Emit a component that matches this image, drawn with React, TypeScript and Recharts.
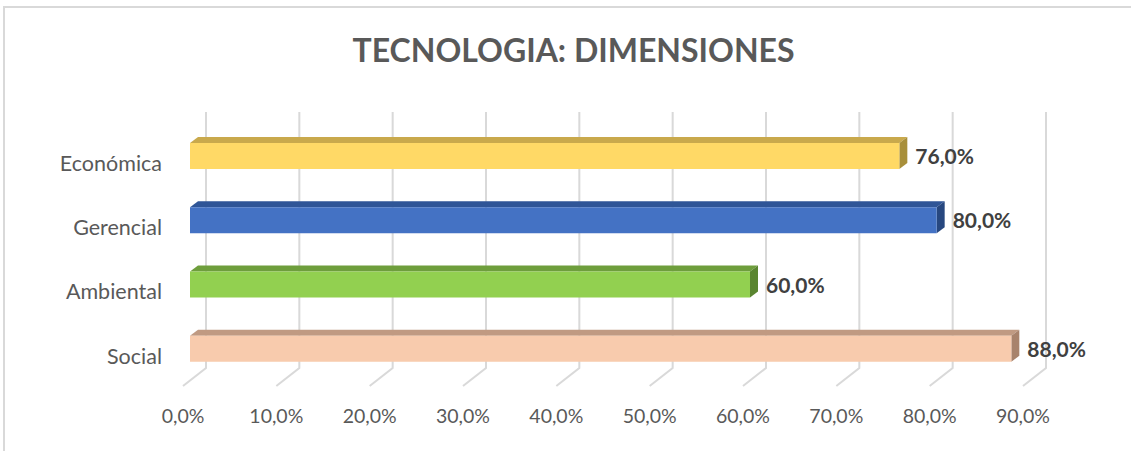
import React from 'react';
import { BarChart, Bar, XAxis, YAxis, CartesianGrid, LabelList } from 'recharts';

const categories = ['Económica', 'Gerencial', 'Ambiental', 'Social'];
const values = [0.76, 0.8, 0.6, 0.88];
const xTicks = [0, 0.1, 0.2, 0.3, 0.4, 0.5, 0.6, 0.7, 0.8, 0.9];

// front / top / side colours per bar
const palette = [
  { front: '#ffd966', top: '#c9a94c', side: '#a88f3a' },
  { front: '#4472c4', top: '#2f5597', side: '#27477f' },
  { front: '#92d050', top: '#6e9e3c', side: '#5a8530' },
  { front: '#f8cbad', top: '#c09a82', side: '#a8836c' },
];

const data = categories.map((name, i) => ({ name, value: values[i], idx: i }));

const FONT = 'Lato, "Open Sans", sans-serif';
const DEPTH_X = 8;
const DEPTH_Y = 6;

const fmt = (v: number) => (v * 100).toFixed(1).replace('.', ',') + '%';

function Bar3D(props: any) {
  const { x, y, width, height, payload } = props;
  const c = palette[payload.idx];
  const top = `M${x},${y} L${x + DEPTH_X},${y - DEPTH_Y} L${x + width + DEPTH_X},${y - DEPTH_Y} L${x + width},${y} Z`;
  const side = `M${x + width},${y} L${x + width + DEPTH_X},${y - DEPTH_Y} L${x + width + DEPTH_X},${y + height - DEPTH_Y} L${x + width},${y + height} Z`;
  return (
    <g>
      <path d={top} fill={c.top} />
      <path d={side} fill={c.side} />
      <rect x={x} y={y} width={width} height={height} fill={c.front} />
    </g>
  );
}

function GridLine(props: any) {
  const { x1, y1, y2, key } = props;
  const bx = x1 + 16;
  const d = `M${bx},${y1 - 12} L${bx},${y2 - 13} L${x1 - 7},${y2 + 5}`;
  return <path key={key} d={d} stroke="#d9d9d9" strokeWidth={2} fill="none" />;
}

function XTick(props: any) {
  const { x, y, payload } = props;
  return (
    <text x={x - 7} y={y + 34} textAnchor="middle" fill="#595959" fontSize={19.5} fontFamily={FONT}>
      {fmt(payload.value)}
    </text>
  );
}

function ValueLabel(props: any) {
  const { x, y, width, height, value } = props;
  return (
    <text
      x={x + width + 16}
      y={y + height / 2 + 8}
      fill="#404040"
      fontSize={21}
      fontWeight="bold"
      fontFamily={FONT}
    >
      {fmt(value)}
    </text>
  );
}

export default function App() {
  return (
    <div style={{ position: 'absolute', left: 0, top: 0, width: 1131, height: 451, background: '#fff', fontFamily: FONT }}>
      <div
        style={{
          position: 'absolute',
          left: 3,
          top: 6,
          width: 1140,
          height: 460,
          border: '2px solid #d9d9d9',
          boxSizing: 'border-box',
        }}
      />
      <div
        style={{
          position: 'absolute',
          left: 8,
          top: 30,
          width: 1131,
          textAlign: 'center',
          fontSize: 32,
          fontWeight: 'bold',
          color: '#595959',
          lineHeight: '40px',
        }}
      >
        TECNOLOGIA: DIMENSIONES
      </div>
      <div style={{ position: 'absolute', left: 0, top: 0 }}>
        <BarChart
          width={1131}
          height={451}
          data={data}
          layout="vertical"
          margin={{ top: 124, right: 101, bottom: 0, left: 0 }}
          barSize={26}
        >
          <CartesianGrid horizontal={false} vertical={GridLine} />
          <XAxis
            type="number"
            domain={[0, 0.9]}
            ticks={xTicks}
            axisLine={false}
            tickLine={false}
            height={70}
            tick={XTick}
            interval={0}
          />
          <YAxis
            type="category"
            dataKey="name"
            width={190}
            axisLine={false}
            tickLine={false}
            tickMargin={22}
            tick={{ fill: '#595959', fontSize: 21.5, fontFamily: FONT, dy: 7 }}
          />
          <Bar dataKey="value" shape={Bar3D} isAnimationActive={false}>
            <LabelList dataKey="value" content={ValueLabel} />
          </Bar>
        </BarChart>
      </div>
    </div>
  );
}
